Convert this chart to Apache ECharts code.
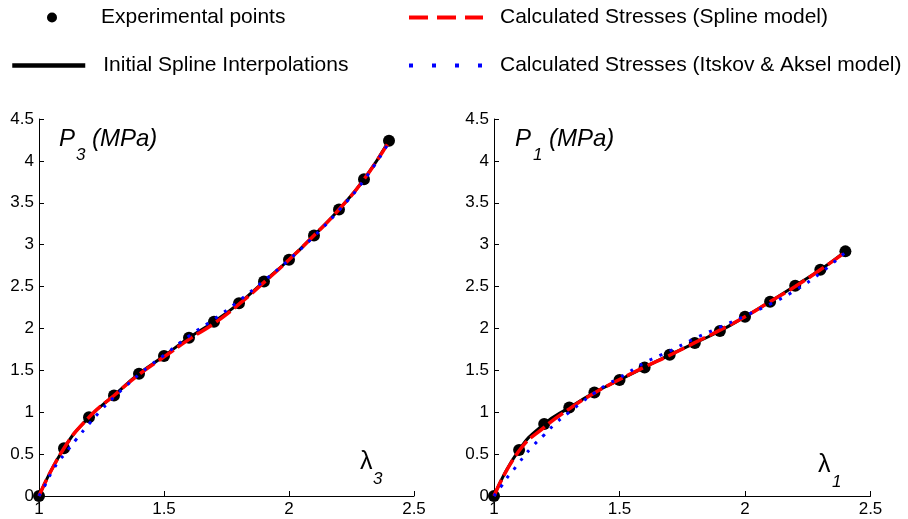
<!DOCTYPE html>
<html>
<head>
<meta charset="utf-8">
<script src="https://cdn.jsdelivr.net/npm/echarts@6/dist/echarts.min.js"></script>
<style>html,body{margin:0;padding:0;background:#fff}#c{width:908px;height:519px}</style>
</head>
<body>
<div id="c"></div>
<script>
// ---- data ----
var lambdaExp = [1.0, 1.1, 1.2, 1.3, 1.4, 1.5, 1.6, 1.7, 1.8, 1.9, 2.0, 2.1, 2.2, 2.3, 2.4];
var p3Exp    = [0, 0.57, 0.94, 1.20, 1.46, 1.67, 1.89, 2.08, 2.30, 2.56, 2.82, 3.11, 3.42, 3.78, 4.24];
var p3Spline = [0, 0.57, 0.94, 1.20, 1.45, 1.66, 1.87, 2.06, 2.29, 2.55, 2.82, 3.11, 3.42, 3.78, 4.23];
var p1Exp    = [0, 0.55, 0.86, 1.055, 1.235, 1.385, 1.535, 1.685, 1.825, 1.97, 2.14, 2.32, 2.51, 2.70, 2.92];
var p1Spline = [0, 0.54, 0.82, 1.04, 1.23, 1.39, 1.54, 1.68, 1.83, 1.98, 2.14, 2.32, 2.50, 2.70, 2.91];
var lambdaIA = [1.0, 1.03, 1.05, 1.08, 1.1, 1.15, 1.2, 1.25, 1.3, 1.35, 1.4, 1.45, 1.5, 1.6, 1.7, 1.8, 1.9, 2.0, 2.1, 2.2, 2.3, 2.4];
var p3IA = [0, 0.16, 0.28, 0.42, 0.49, 0.68, 0.86, 1.03, 1.18, 1.32, 1.45, 1.57, 1.68, 1.91, 2.11, 2.33, 2.57, 2.82, 3.10, 3.41, 3.77, 4.22];
var p1IA = [0, 0.12, 0.21, 0.32, 0.40, 0.58, 0.73, 0.88, 1.00, 1.12, 1.23, 1.33, 1.41, 1.59, 1.73, 1.88, 2.015, 2.15, 2.29, 2.455, 2.66, 2.91];
var xTicks = {min: 1, max: 2.5, step: 0.5};
var yTicks = {min: 0, max: 4.5, step: 0.5};
var names = ['Experimental points', 'Initial Spline Interpolations', 'Calculated Stresses (Spline model)', 'Calculated Stresses (Itskov & Aksel model)'];

function pairs(xs, ys) { return xs.map(function (x, i) { return [x, ys[i]]; }); }

var FONT = "'Liberation Sans', Arial, sans-serif";

function xAxis(gi) {
  return {
    type: 'value', gridIndex: gi, min: xTicks.min, max: xTicks.max, interval: xTicks.step,
    splitLine: {show: false},
    axisLine: {show: true, onZero: false, lineStyle: {color: '#000', width: 1}},
    axisTick: {show: true, inside: true, length: 5, lineStyle: {color: '#000'}},
    axisLabel: {color: '#000', fontSize: 17, fontFamily: FONT, margin: 5}
  };
}
function yAxis(gi) {
  return {
    type: 'value', gridIndex: gi, min: yTicks.min, max: yTicks.max, interval: yTicks.step,
    splitLine: {show: false},
    axisLine: {show: true, onZero: false, lineStyle: {color: '#000', width: 1}},
    axisTick: {show: true, inside: true, length: 5, lineStyle: {color: '#000'}},
    axisLabel: {color: '#000', fontSize: 17, fontFamily: FONT, margin: 5}
  };
}

var panels = [
  {exp: p3Exp, spl: p3Spline, ia: p3IA},
  {exp: p1Exp, spl: p1Spline, ia: p1IA}
];
var series = [];
panels.forEach(function (p, gi) {
  series.push({
    name: names[0], type: 'scatter', xAxisIndex: gi, yAxisIndex: gi,
    data: pairs(lambdaExp, p.exp), symbol: 'circle', symbolSize: 12,
    itemStyle: {color: '#000', opacity: 1}, z: 1
  });
  series.push({
    name: names[1], type: 'line', xAxisIndex: gi, yAxisIndex: gi,
    data: pairs(lambdaExp, p.exp), symbol: 'none', smooth: 0.5,
    lineStyle: {color: '#000', width: 3}, itemStyle: {color: '#000'}, z: 2
  });
  series.push({
    name: names[2], type: 'line', xAxisIndex: gi, yAxisIndex: gi,
    data: pairs(lambdaExp, p.spl), symbol: 'none', smooth: 0.5,
    lineStyle: {color: '#ff0000', width: 3.5, type: [18, 5]}, itemStyle: {color: '#ff0000'}, z: 3
  });
  series.push({
    name: names[3], type: 'line', xAxisIndex: gi, yAxisIndex: gi,
    data: pairs(lambdaIA, p.ia), symbol: 'none', smooth: 0.5,
    lineStyle: {color: '#0000ff', width: 3, type: [3, 8]}, itemStyle: {color: '#0000ff'}, z: 4
  });
});

var legTxt = {color: '#000', fontSize: 21, fontFamily: FONT};
function legend(name, left, top, w, h, pad, ls, is) {
  var l = {
    data: [name], left: left, top: top, itemWidth: w, itemHeight: h, selectedMode: false,
    padding: 0, textStyle: Object.assign({padding: [0, 0, 0, pad]}, legTxt)
  };
  if (ls) l.lineStyle = ls;
  if (is) l.itemStyle = is;
  return l;
}
var noSym = {color: 'rgba(0,0,0,0)', borderWidth: 0, borderColor: 'rgba(0,0,0,0)'};

var labelTxt = function (text, x, y, size, italic) {
  return {type: 'text', x: x, y: y, silent: true,
    style: {text: text, fill: '#000', font: (italic ? 'italic ' : '') + size + 'px ' + FONT, verticalAlign: 'middle', align: 'left'}};
};

var option = {
  animation: false,
  backgroundColor: '#fff',
  grid: [
    {left: 39, top: 119, width: 375, height: 377},
    {left: 494, top: 119, width: 376.5, height: 377}
  ],
  xAxis: [xAxis(0), xAxis(1)],
  yAxis: [yAxis(0), yAxis(1)],
  legend: [
    legend(names[0], 47, 7, 10, 10, 39, null, {color: '#000', opacity: 1}),
    legend(names[1], 10, 55, 73, 10, 13, {width: 4.5}, noSym),
    legend(names[2], 407, 7, 74, 10, 12, {width: 4, type: [19, 9]}, noSym),
    legend(names[3], 407, 55, 74, 10, 12, {width: 4, type: [4, 19]}, noSym)
  ],
  graphic: [
    labelTxt('P', 59, 139, 24, true),
    labelTxt('3', 76, 155, 17, true),
    labelTxt('(MPa)', 92, 139, 24, true),
    labelTxt('P', 515, 139, 24, true),
    labelTxt('1', 533, 155, 17, true),
    labelTxt('(MPa)', 549, 139, 24, true),
    labelTxt('\u03bb', 360, 462, 25, false),
    labelTxt('3', 373, 479, 17, true),
    labelTxt('\u03bb', 818, 465, 25, false),
    labelTxt('1', 832, 482, 17, true)
  ],
  series: series
};
var chart = echarts.init(document.getElementById('c'), null, {renderer: 'canvas'});
chart.setOption(option);
</script>
</body>
</html>
